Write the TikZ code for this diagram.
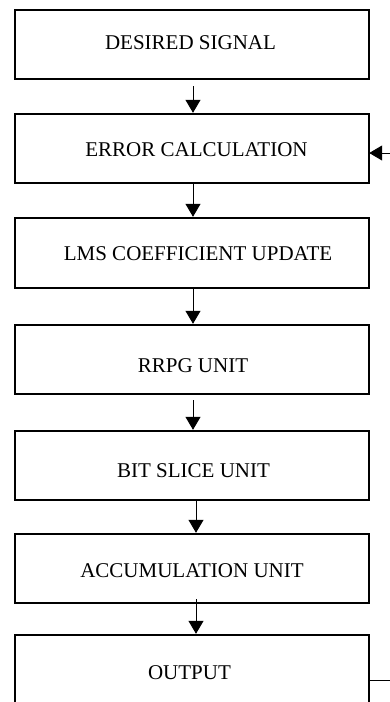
\documentclass[tikz,border=0pt]{standalone}
\usepackage{fontspec}
\setmainfont{Liberation Serif}
\usetikzlibrary{arrows.meta}
\begin{document}
\begin{tikzpicture}[x=1pt,y=-1pt,
  blockbox/.style={draw=black,line width=2.4pt,minimum width=354pt,inner sep=0pt,fill=white},
  lbl/.style={anchor=base,inner sep=0pt,font=\fontsize{21}{25}\selectfont},
  arr/.style={line width=1pt,-{Triangle[width=15pt,length=13pt]}},
  fbline/.style={line width=1pt}]
\clip (0,0) rectangle (390,702);
\fill[white] (0,0) rectangle (390,702);
% boxes
\node[blockbox,minimum height=69pt] (b1) at (192,44.5) {};
\node[blockbox,minimum height=69pt] (b2) at (192,148.5) {};
\node[blockbox,minimum height=70pt] (b3) at (192,253) {};
\node[blockbox,minimum height=69pt] (b4) at (192,359.5) {};
\node[blockbox,minimum height=69pt] (b5) at (192,465.5) {};
\node[blockbox,minimum height=69pt] (b6) at (192,568.5) {};
\node[blockbox,minimum height=105pt] (b7) at (192,687.5) {};
% labels
\node[lbl] (t1) at (190.5,49) {DESIRED SIGNAL};
\node[lbl] (t2) at (196.5,156) {ERROR CALCULATION};
\node[lbl] (t3) at (198,260) {LMS COEFFICIENT UPDATE};
\node[lbl] (t4) at (193,372) {RRPG UNIT};
\node[lbl] (t5) at (193.5,477) {BIT SLICE UNIT};
\node[lbl] (t6) at (192,577) {ACCUMULATION UNIT};
\node[lbl] (t7) at (189.5,679) {OUTPUT};
% arrows
\draw[arr] ([xshift=1pt,yshift=-6pt]b1.south) -- ([xshift=1pt]b2.north);
\draw[arr] ([xshift=1pt]b2.south) -- ([xshift=1pt]b3.north);
\draw[arr] ([xshift=1pt]b3.south) -- ([xshift=1pt]b4.north);
\draw[arr] ([xshift=1pt,yshift=-5pt]b4.south) -- ([xshift=1pt]b5.north);
\draw[arr] ([xshift=4pt]b5.south) -- ([xshift=4pt]b6.north);
\draw[arr] ([xshift=4pt,yshift=5pt]b6.south) -- ([xshift=4pt]b7.north);
% feedback stubs
\coordinate (fb1) at (390,153);
\draw[arr] (fb1) -- ([xshift=-1pt]fb1 -| b2.east);
\coordinate (fb2) at (390,680.5);
\draw[fbline] (fb2 -| b7.east) -- (fb2);
\end{tikzpicture}
\end{document}
